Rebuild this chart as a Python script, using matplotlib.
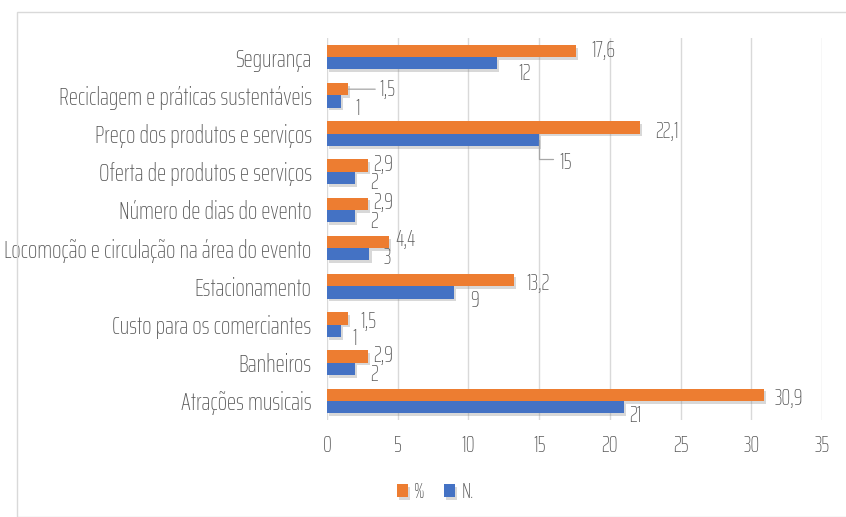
import matplotlib
matplotlib.use("Agg")
import matplotlib.pyplot as plt
import matplotlib.patheffects as pe
from matplotlib.patches import Rectangle
import numpy as np

# Categories listed top to bottom as they appear on the chart
categories = [
    "Segurança",
    "Reciclagem e práticas sustentáveis",
    "Preço dos produtos e serviços",
    "Oferta de produtos e serviços",
    "Número de dias do evento",
    "Locomoção e circulação na área do evento",
    "Estacionamento",
    "Custo para os comerciantes",
    "Banheiros",
    "Atrações musicais",
]
pct_values = [17.6, 1.5, 22.1, 2.9, 2.9, 4.4, 13.2, 1.5, 2.9, 30.9]
n_values = [12, 1, 15, 2, 2, 3, 9, 1, 2, 21]
pct_labels = ["17,6", "1,5", "22,1", "2,9", "2,9", "4,4", "13,2", "1,5", "2,9", "30,9"]
n_labels = ["12", "1", "15", "2", "2", "3", "9", "1", "2", "21"]
x_ticks = [0, 5, 10, 15, 20, 25, 30, 35]

# label offsets (pixels from bar end / bar centre, y downward)
pct_off = [(27, -1), (39, -1), (27, 3), (15, -2), (15, -2), (16, -3), (24, 2), (20, 2), (15, -2), (25, 3)]
n_off = [(28, 10), (17, 7), (26, 23), (19, 5), (19, 5), (18, 3), (20, 8), (14, 8), (19, 6), (11, 8)]

ORANGE = "#ED7D31"
BLUE = "#4472C4"
TEXT = "#595959"
FONT = ["Saira ExtraCondensed", "DejaVu Sans"]
plt.rcParams["font.family"] = FONT
plt.rcParams["font.weight"] = "light"

fig = plt.figure(figsize=(8.46, 5.17), dpi=100)
fig.patches.append(Rectangle((17 / 846, 0), 1, 1 - 12 / 517, transform=fig.transFigure,
                             fill=False, edgecolor="#D9D9D9", linewidth=1.0))
ax = fig.add_axes([327 / 846, 1 - 420 / 517, (822 - 327) / 846, (420 - 38) / 517])

n = len(categories)
y = np.arange(n)[::-1]  # top category at highest y
h = 0.32
shadow = [pe.SimplePatchShadow(offset=(1.5, -2), shadow_rgbFace="#808080", alpha=0.3), pe.Normal()]
bars_pct = ax.barh(y + h / 2, pct_values, height=h, color=ORANGE, label="%", zorder=3)
bars_n = ax.barh(y - h / 2, n_values, height=h, color=BLUE, label="N.", zorder=3)
for b in list(bars_pct) + list(bars_n):
    b.set_path_effects(shadow)

for i in range(n):
    ax.annotate(pct_labels[i], (pct_values[i], y[i] + h / 2), xytext=(pct_off[i][0], -pct_off[i][1]),
                textcoords="offset pixels", ha="center", va="center", fontsize=16, color=TEXT, zorder=4)
    ax.annotate(n_labels[i], (n_values[i], y[i] - h / 2), xytext=(n_off[i][0], -n_off[i][1]),
                textcoords="offset pixels", ha="center", va="center", fontsize=16, color=TEXT, zorder=4)

# leader lines for displaced labels
ax.annotate("", xy=(pct_values[1], y[1] + h / 2), xytext=(27, 0), textcoords="offset pixels",
            arrowprops=dict(arrowstyle="-", color="#A6A6A6", lw=0.9, shrinkA=0, shrinkB=0))
ax.annotate("", xy=(n_values[2], y[2] - h / 2), xytext=(14, -19), textcoords="offset pixels",
            arrowprops=dict(arrowstyle="-", color="#A6A6A6", lw=0.9, shrinkA=0, shrinkB=0,
                            connectionstyle="angle,angleA=0,angleB=90,rad=0"))

ax.set_xlim(0, 35)
ax.set_ylim(-0.5, n - 0.5)
ax.set_xticks(x_ticks)
ax.set_xticklabels([str(t) for t in x_ticks], fontsize=16, color=TEXT)
ax.set_yticks(y)
ax.set_yticklabels(categories, fontsize=17.5, color=TEXT)
ax.tick_params(axis="both", length=0)
ax.tick_params(axis="x", pad=11)
ax.tick_params(axis="y", pad=11)
ax.grid(axis="x", color="#D9D9D9", linewidth=1.0, zorder=0)
for s in ax.spines.values():
    s.set_visible(False)

leg = fig.legend(handles=[bars_pct, bars_n], labels=["%", "N."], loc="center",
                 bbox_to_anchor=(435 / 846, 1 - 492 / 517), ncol=2, frameon=False,
                 fontsize=15, handlelength=0.55, handleheight=0.55, handletextpad=0.3,
                 columnspacing=0.9)
for t in leg.get_texts():
    t.set_color(TEXT)

fig.savefig("out.png", dpi=100)
